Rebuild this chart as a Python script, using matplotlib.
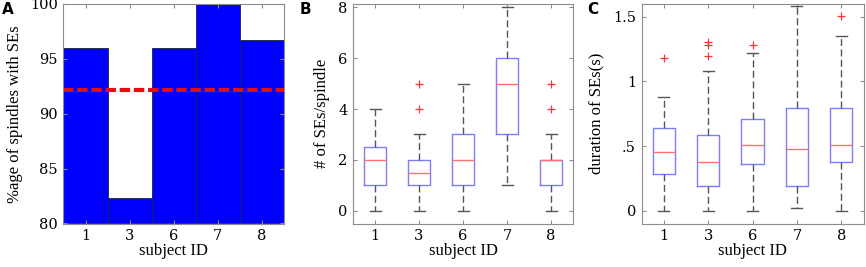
import matplotlib
matplotlib.use("Agg")
import matplotlib.pyplot as plt

subjects = ["1", "3", "6", "7", "8"]

# panel A: percentage of spindles with SEs
pct_with_se = [96.0, 82.3, 96.0, 100.0, 96.7]
pct_mean = 92.2

# panel B: number of SEs per spindle (box stats)
b_q1 = [1, 1, 1, 3, 1]
b_med = [2, 1.5, 2, 5, 2]
b_q3 = [2.5, 2, 3, 6, 2]
b_lo = [0, 0, 0, 1, 0]
b_hi = [4, 3, 5, 8, 3]
b_out = [[], [4, 5], [], [], [4, 5]]

# panel C: duration of SEs in seconds (box stats)
c_q1 = [0.282, 0.187, 0.359, 0.187, 0.375]
c_med = [0.452, 0.380, 0.506, 0.480, 0.506]
c_q3 = [0.640, 0.588, 0.709, 0.796, 0.796]
c_lo = [0.0, 0.0, 0.0, 0.023, 0.0]
c_hi = [0.883, 1.083, 1.217, 1.582, 1.350]
c_out = [[1.18], [1.196, 1.286, 1.307], [1.281], [], [1.504]]

plt.rcParams["font.family"] = ["Liberation Serif", "DejaVu Serif"]

SPINE = "#8c8c8c"
TICKFONT = dict(family="DejaVu Serif", size=10.5)


def style_axes(ax):
    for s in ax.spines.values():
        s.set_color(SPINE)
        s.set_linewidth(0.8)
    ax.tick_params(direction="in", length=3, color=SPINE,
                   top=True, right=True, pad=4)
    ax.set_xticks(range(1, 6))
    ax.set_xticklabels(subjects)
    ax.set_xlim(0.5, 5.5)
    for t in ax.get_xticklabels() + ax.get_yticklabels():
        t.set_fontfamily(TICKFONT["family"])
        t.set_fontsize(TICKFONT["size"])
    ax.set_xlabel("subject ID", fontsize=12, labelpad=0)


def boxes(ax, q1, med, q3, lo, hi, out):
    stats = []
    for i in range(len(med)):
        stats.append(dict(q1=q1[i], med=med[i], q3=q3[i], whislo=lo[i],
                          whishi=hi[i], fliers=out[i]))
    ax.bxp(stats, positions=range(1, 6), widths=0.5, capwidths=0.25,
           boxprops=dict(color="#7c7cff", linewidth=1.0),
           medianprops=dict(color="#ff7070", linewidth=1.0),
           whiskerprops=dict(color="#555555", linewidth=1.0,
                             linestyle=(0, (5, 2.5))),
           capprops=dict(color="#555555", linewidth=1.0),
           flierprops=dict(marker="+", markeredgecolor="#ff3333",
                           markersize=6, markeredgewidth=0.9))


fig = plt.figure(figsize=(8.66, 2.67), dpi=100)
ax_a = fig.add_axes([63.5 / 866, 43.5 / 267, 220 / 866, 219.5 / 267])
ax_b = fig.add_axes([353 / 866, 43.5 / 267, 220 / 866, 219.5 / 267])
ax_c = fig.add_axes([641.5 / 866, 43.5 / 267, 222 / 866, 219.5 / 267])

# A
ax_a.bar(range(1, 6), [v - 80 for v in pct_with_se], bottom=80, width=1.0,
         color="#0000ff", edgecolor="#202040", linewidth=0.6)
ax_a.axhline(pct_mean, color="#dd1111", linewidth=3, linestyle=(0, (2.5, 0.9)))
ax_a.set_ylim(80, 100)
ax_a.set_yticks([80, 85, 90, 95, 100])
style_axes(ax_a)
ax_a.set_ylabel("%age of spindles with SEs", fontsize=12, labelpad=5)

# B
boxes(ax_b, b_q1, b_med, b_q3, b_lo, b_hi, b_out)
ax_b.set_ylim(-0.5, 8.13)
ax_b.set_yticks([0, 2, 4, 6, 8])
style_axes(ax_b)
ax_b.set_ylabel("# of SEs/spindle", fontsize=12, labelpad=6)

# C
boxes(ax_c, c_q1, c_med, c_q3, c_lo, c_hi, c_out)
ax_c.set_ylim(-0.1, 1.6)
ax_c.set_yticks([0, 0.5, 1, 1.5])
ax_c.set_yticklabels(["0", ".5", "1", "1.5"])
style_axes(ax_c)
ax_c.set_ylabel("duration of SEs(s)", fontsize=12, labelpad=6)

for x, lab in [(2, "A"), (300, "B"), (587, "C")]:
    fig.text(x / 866, 1 - 10 / 267, lab, fontsize=11, fontweight="bold",
             family="DejaVu Sans", va="center", ha="left")

fig.savefig("out.png", dpi=100)
